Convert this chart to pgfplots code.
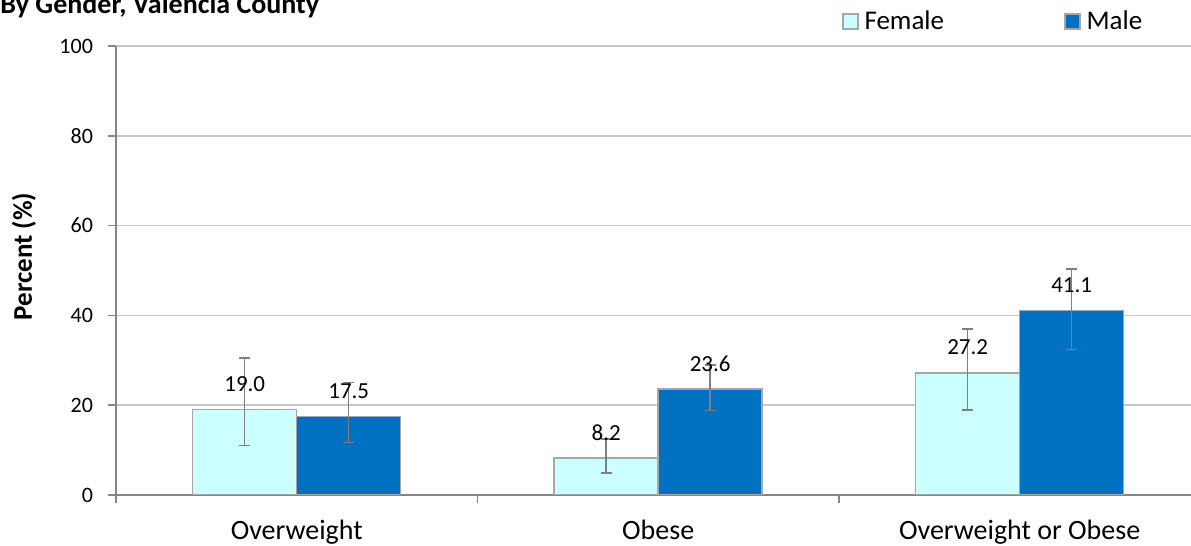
\documentclass[border=0pt]{standalone}
\usepackage{fontspec}
\setmainfont{Carlito}
\usepackage{pgfplots}
\pgfplotsset{compat=1.18}
\usepackage{pgfplotstable}
\definecolor{fem}{HTML}{CCFFFF}
\definecolor{mal}{HTML}{0070C0}
\definecolor{edge}{HTML}{A6A6A6}
\definecolor{axgray}{HTML}{868686}
\definecolor{gridgray}{HTML}{C6C6C6}
\definecolor{errgray}{HTML}{7F7F7F}

\pgfplotstableread{
x y ep em
0 19.0 11.5 8.0
1 8.2 4.3 3.3
2 27.2 9.8 8.3
}\female
\pgfplotstableread{
x y ep em
0 17.5 7.5 5.8
1 23.6 5.4 4.8
2 41.1 9.2 8.7
}\male

\pgfplotsset{sqlegend/.style={legend image code/.code={\draw[##1] (0pt,-3.75pt) rectangle (7.5pt,3.75pt);}}}

\begin{document}
\begin{tikzpicture}
\useasboundingbox (0,0) rectangle (595.5pt,273pt);
\node[anchor=base west, inner sep=0pt, font=\bfseries\fontsize{14}{16}\selectfont] at (0pt,266pt) {By Gender, Valencia County};
\begin{axis}[
  at={(58pt,25.5pt)}, anchor=south west,
  scale only axis, width=537.5pt, height=224.5pt,
  xmin=-0.5, xmax=2.474, ymin=0, ymax=100,
  axis x line*=bottom, axis y line*=left,
  axis line style={axgray, line width=0.75pt},
  ybar, bar width=52pt,
  ytick={0,20,40,60,80,100},
  ymajorgrids, grid style={gridgray, line width=0.75pt},
  tick align=outside, major tick length=4pt, minor tick length=4pt,
  tick style={axgray, line width=0.75pt},
  xtick={0,1,2}, xticklabels={Overweight,Obese,Overweight or Obese},
  major x tick style={draw=none},
  minor xtick={-0.5,0.5,1.5},
  /pgf/number format/assume math mode=true,
  yticklabel style={font=\fontsize{11}{13}\selectfont, xshift=-4pt},
  xticklabel style={font=\fontsize{14}{16}\selectfont, yshift=-5pt},
  ylabel={Percent (\%)},
  every axis y label/.style={at={([xshift=-46pt]rel axis cs:0,0.531)}, rotate=90, anchor=center,
     font=\bfseries\fontsize{13.5}{15}\selectfont},
  nodes near coords={\pgfmathprintnumber[fixed,fixed zerofill,precision=1]{\pgfplotspointmeta}},
  every node near coord/.append style={font=\fontsize{11.5}{13}\selectfont, anchor=south, inner sep=0pt, yshift=8.5pt, black},
  legend columns=2,
  legend style={at={(0.675,1.054)}, anchor=west, draw=none, fill=none, inner sep=0pt,
    font=\fontsize{13.5}{15}\selectfont,
    /tikz/every odd column/.append style={column sep=1pt},
    /tikz/every even column/.append style={column sep=58pt}},
]
\addplot[sqlegend, draw=edge, line width=0.75pt, fill=fem, bar shift=-26pt,
  error bars/.cd, y dir=both, y explicit,
  error bar style={errgray, line width=0.75pt},
  error mark options={errgray, line width=0.75pt, mark size=2.75pt, rotate=90}]
  table[x=x, y=y, y error plus=ep, y error minus=em]{\female};
\addlegendentry{Female}
\addplot[sqlegend, draw=edge, line width=0.75pt, fill=mal, bar shift=26pt,
  error bars/.cd, y dir=both, y explicit,
  error bar style={errgray, line width=0.75pt},
  error mark options={errgray, line width=0.75pt, mark size=2.75pt, rotate=90}]
  table[x=x, y=y, y error plus=ep, y error minus=em]{\male};
\addlegendentry{Male}
\end{axis}
\end{tikzpicture}
\end{document}
